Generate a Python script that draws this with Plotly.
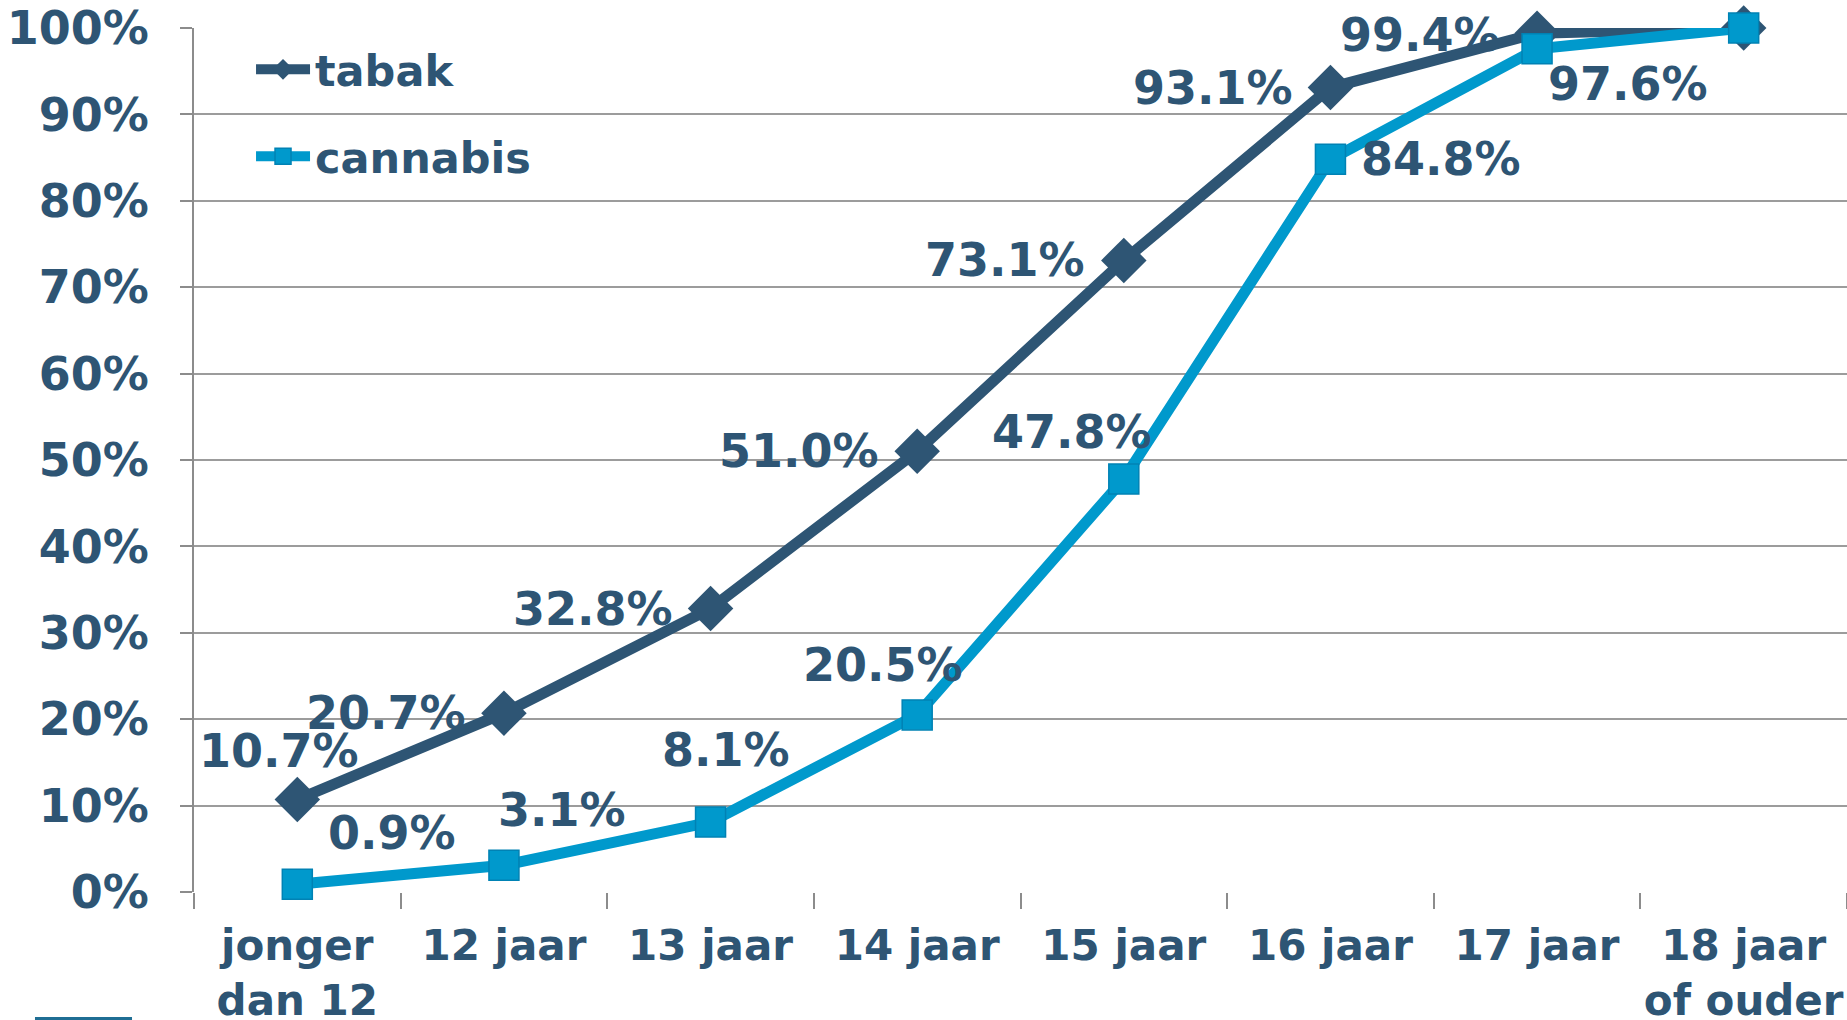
import plotly.graph_objects as go

categories = ["jonger<br>dan 12", "12 jaar", "13 jaar", "14 jaar", "15 jaar", "16 jaar", "17 jaar", "18 jaar<br>of ouder"]
tabak = [10.7, 20.7, 32.8, 51.0, 73.1, 93.1, 99.4, 100.0]
cannabis = [0.9, 3.1, 8.1, 20.5, 47.8, 84.8, 97.6, 100.0]
y_ticks = [0, 10, 20, 30, 40, 50, 60, 70, 80, 90, 100]
y_tick_labels = [f"{v}%" for v in y_ticks]

# label offsets in pixels (dx, dy); None = no label
tabak_offsets = [(-18, -49), (-118, 0), (-118, 0), (-118, 0), (-119, 0), (-117, 0), (-117, 2), None]
cannabis_offsets = [(95, -51), (58, -55), (15, -72), (-34, -50), (-52, -47), (111, 0), (91, 35), None]

DARK = "#2E5574"
TEAL = "#0099CC"
FONT = "DejaVu Sans"

x = list(range(len(categories)))

fig = go.Figure()
fig.add_trace(go.Scatter(
    x=x, y=tabak, name="tabak", mode="lines+markers", legendgroup="a",
    line=dict(color=DARK, width=11),
    marker=dict(symbol="diamond", size=35, color=DARK, line=dict(width=0)),
    cliponaxis=False,
))
fig.add_trace(go.Scatter(
    x=x, y=cannabis, name="cannabis", mode="lines+markers", legendgroup="b",
    line=dict(color=TEAL, width=11),
    marker=dict(symbol="square", size=30, color=TEAL, line=dict(width=1.5, color="#0082B4")),
    cliponaxis=False,
))

annotations = []
for vals, offs in ((tabak, tabak_offsets), (cannabis, cannabis_offsets)):
    for i, (v, off) in enumerate(zip(vals, offs)):
        if off is None:
            continue
        annotations.append(dict(
            x=i, y=v, xref="x", yref="y", text=f"{v:.1f}%", showarrow=False,
            xshift=off[0], yshift=-off[1], xanchor="center", yanchor="middle",
            font=dict(family=FONT, size=46, color=DARK, weight="bold"),
        ))

fig.update_layout(
    width=1847, height=1020,
    margin=dict(l=194, r=0, t=28, b=128, autoexpand=False),
    paper_bgcolor="white", plot_bgcolor="white",
    font=dict(family=FONT, color=DARK, size=42, weight="bold"),
    showlegend=True,
    legend=dict(
        x=0.0345, y=0.992, xanchor="left", yanchor="top",
        font=dict(family=FONT, size=43, color=DARK, weight="bold"),
        itemwidth=54, tracegroupgap=28, bgcolor="rgba(0,0,0,0)",
        itemsizing="trace", traceorder="grouped",
    ),
    annotations=annotations,
    shapes=[dict(type="rect", xref="paper", yref="paper",
                 x0=-0.0962, x1=-0.0375, y0=-0.1482, y1=-0.1447,
                 line=dict(width=0), fillcolor="#1F6E94")],
)

fig.update_xaxes(
    automargin=False,
    tickmode="array", tickvals=x, ticktext=categories,
    range=[-0.5, 7.5], showgrid=False, zeroline=False,
    showline=False, ticks="",
    tickfont=dict(family=FONT, size=42, color=DARK, weight="bold"),
    ticklabelstandoff=25,
    minor=dict(tickmode="array", tickvals=[i - 0.5 for i in range(len(categories) + 1)],
               ticks="outside", ticklen=16, tickcolor="#8C8C8C", tickwidth=2, showgrid=False),
)
fig.update_yaxes(
    automargin=False,
    range=[0, 100], tickmode="array", tickvals=y_ticks, ticktext=y_tick_labels,
    showgrid=True, gridcolor="#9C9C9C", gridwidth=2,
    zeroline=False, showline=True, linecolor="#8C8C8C", linewidth=2,
    ticks="outside", ticklen=12, tickcolor="#8C8C8C", tickwidth=2,
    tickfont=dict(family=FONT, size=46, color=DARK, weight="bold"),
    ticklabelstandoff=22,
)

fig.write_html(
    "out.html",
    config={"displayModeBar": False},
    post_script="document.body.style.margin='0';document.body.style.overflow='hidden';",
)
